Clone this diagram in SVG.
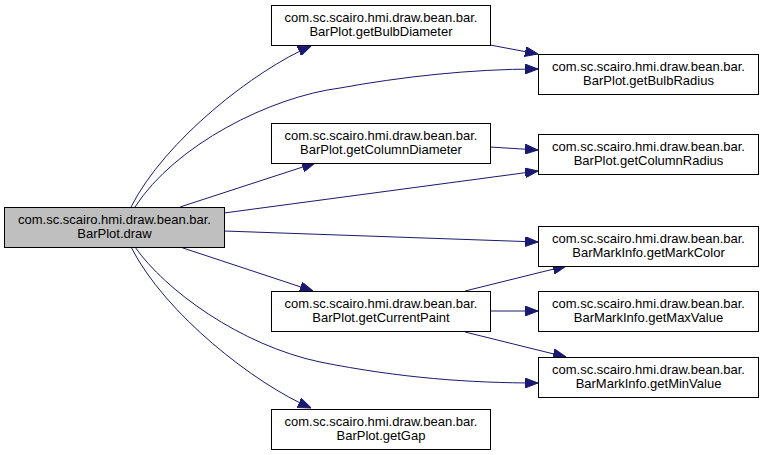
<svg xmlns="http://www.w3.org/2000/svg" width="763" height="455" viewBox="0 0 763 455">
<style>
.n rect{fill:#fff;stroke:#000;stroke-width:1}
#draw rect{fill:#bfbfbf}
.n text{font-family:"Liberation Sans",Arial,sans-serif;font-size:13px;fill:#000;text-anchor:middle}
.e path{fill:none;stroke:#191970;stroke-width:1;marker-end:url(#ah)}
</style>
<defs>
<marker id="ah" markerUnits="userSpaceOnUse" markerWidth="13" markerHeight="10" viewBox="0 0 13 10" refX="13" refY="5" orient="auto">
<path d="M0,0 L13,5 L0,10 z" fill="#191970" stroke="#191970" stroke-width="1"/>
</marker>
</defs>
<rect width="763" height="455" fill="#fff"/>
<g id="edges" class="e">
<path d="M131,207 C165,140 255,70 311,46"/>
<path d="M135,207 C175,145 270,97 340,88 C400,77 470,69 538,69"/>
<path d="M180,207 L315,163"/>
<path d="M224,213 L538,171"/>
<path d="M224,231 L538,242"/>
<path d="M180,247 L313,291"/>
<path d="M135,247 C165,290 240,345 320,362 C400,378 470,383 538,383"/>
<path d="M131,247 C165,314 255,384 311,408"/>
<path d="M490,45 L538,54"/>
<path d="M490,147 L538,150"/>
<path d="M465,291 L566,266"/>
<path d="M490,311 L538,311"/>
<path d="M465,332 L566,357"/>
</g>
<g id="draw" class="n"><rect x="4.5" y="207.5" width="220" height="40"/><text x="114.5" y="223.5">com.sc.scairo.hmi.draw.bean.bar.</text><text x="114.5" y="237.5">BarPlot.draw</text></g>
<g id="getBulbDiameter" class="n"><rect x="271.5" y="5.5" width="219" height="40"/><text x="381" y="21.5">com.sc.scairo.hmi.draw.bean.bar.</text><text x="381" y="35.5">BarPlot.getBulbDiameter</text></g>
<g id="getBulbRadius" class="n"><rect x="538.5" y="54.5" width="220" height="40"/><text x="648.5" y="70.5">com.sc.scairo.hmi.draw.bean.bar.</text><text x="648.5" y="84.5">BarPlot.getBulbRadius</text></g>
<g id="getColumnDiameter" class="n"><rect x="271.5" y="123.5" width="219" height="40"/><text x="381" y="139.5">com.sc.scairo.hmi.draw.bean.bar.</text><text x="381" y="153.5">BarPlot.getColumnDiameter</text></g>
<g id="getColumnRadius" class="n"><rect x="538.5" y="134.5" width="220" height="40"/><text x="648.5" y="150.5">com.sc.scairo.hmi.draw.bean.bar.</text><text x="648.5" y="164.5">BarPlot.getColumnRadius</text></g>
<g id="getMarkColor" class="n"><rect x="538.5" y="226.5" width="220" height="40"/><text x="648.5" y="242.5">com.sc.scairo.hmi.draw.bean.bar.</text><text x="648.5" y="256.5">BarMarkInfo.getMarkColor</text></g>
<g id="getCurrentPaint" class="n"><rect x="271.5" y="291.5" width="219" height="40"/><text x="381" y="307.5">com.sc.scairo.hmi.draw.bean.bar.</text><text x="381" y="321.5">BarPlot.getCurrentPaint</text></g>
<g id="getMaxValue" class="n"><rect x="538.5" y="291.5" width="220" height="40"/><text x="648.5" y="307.5">com.sc.scairo.hmi.draw.bean.bar.</text><text x="648.5" y="321.5">BarMarkInfo.getMaxValue</text></g>
<g id="getMinValue" class="n"><rect x="538.5" y="357.5" width="220" height="40"/><text x="648.5" y="373.5">com.sc.scairo.hmi.draw.bean.bar.</text><text x="648.5" y="387.5">BarMarkInfo.getMinValue</text></g>
<g id="getGap" class="n"><rect x="271.5" y="409.5" width="219" height="40"/><text x="381" y="425.5">com.sc.scairo.hmi.draw.bean.bar.</text><text x="381" y="439.5">BarPlot.getGap</text></g>
</svg>
